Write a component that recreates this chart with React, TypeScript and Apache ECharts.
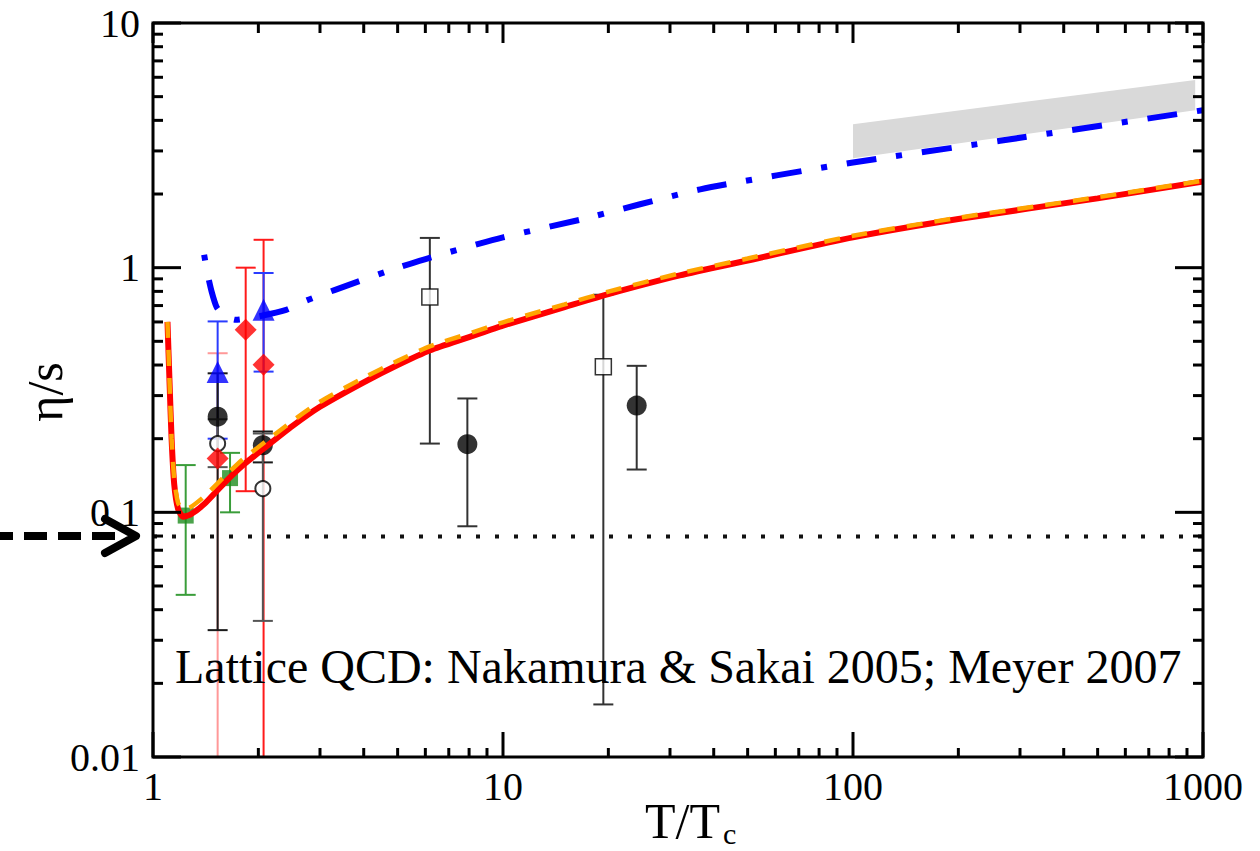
import React, { useEffect, useRef } from 'react';
import * as echarts from 'echarts';

const FONT = 'Liberation Serif';

// ---- axes ----
const xMajor = [1, 10, 100, 1000];
const yMajor = [0.01, 0.1, 1, 10];
const xTickLabels = ['1', '10', '100', '1000'];
const yTickLabels = ['0.01', '0.1', '1', '10'];
const minorSteps = [2, 3, 4, 5, 6, 7, 8, 9];

// ---- model curves (T/Tc, eta/s) ----
const redT = [1.1, 1.115, 1.13, 1.15, 1.18, 1.22, 1.28, 1.4, 1.6, 1.8, 2.1, 2.5, 3.0, 4.0, 5.0, 6.2, 8.0, 10, 15, 20, 32, 50, 100, 200, 500, 1000];
const redEta = [0.6, 0.34, 0.2, 0.13, 0.103, 0.096, 0.098, 0.108, 0.132, 0.155, 0.185, 0.225, 0.27, 0.34, 0.4, 0.46, 0.52, 0.58, 0.69, 0.78, 0.93, 1.07, 1.33, 1.58, 1.92, 2.25];

const orangeT = [1.1, 1.115, 1.13, 1.15, 1.18, 1.22, 1.28, 1.4, 1.6, 1.8, 2.1, 2.5, 3.0, 4.0, 5.0, 6.2, 8.0, 10, 15, 20, 32, 50, 100, 200, 500, 1000];
const orangeEta = [0.6, 0.34, 0.2, 0.136, 0.109, 0.103, 0.105, 0.116, 0.14, 0.164, 0.195, 0.236, 0.283, 0.355, 0.416, 0.478, 0.538, 0.598, 0.708, 0.798, 0.948, 1.09, 1.35, 1.6, 1.94, 2.27];

const blueT = [1.4, 1.43, 1.47, 1.52, 1.6, 1.72, 2.0, 2.4, 2.75, 3.3, 4.66, 6.2, 10, 16.6, 36.6, 100, 263, 1000];
const blueEta = [1.13, 0.95, 0.8, 0.69, 0.635, 0.612, 0.632, 0.672, 0.735, 0.81, 0.966, 1.1, 1.33, 1.57, 2.09, 2.69, 3.3, 4.4];

// high-temperature band
const bandT = [100, 950];
const bandLow = [2.8, 4.4];
const bandHigh = [3.86, 5.85];

// KSS bound 1/(4 pi)
const kssBound = 0.0796;

// ---- lattice points ----
const meyerT = [1.24, 1.66];
const meyerEta = [0.097, 0.138];
const meyerLo = [0.046, 0.1];
const meyerHi = [0.156, 0.175];

const nsFilledT = [1.53, 2.06];
const nsFilledEta = [0.246, 0.188];
const nsFilledLo = [0.033, 0.16];
const nsFilledHi = [0.37, 0.214];

const nsOpenT = [1.53, 2.06];
const nsOpenEta = [0.191, 0.125];
const nsOpenLo = [0.153, 0.036];
const nsOpenHi = [0.24, 0.21];

const nsDiamondT = [1.53, 1.84, 2.07];
const nsDiamondEta = [0.166, 0.557, 0.401];
const nsDiamondLo = [0.001, 0.122, 0.001];
const nsDiamondHi = [0.447, 1.0, 1.3];

const nsTriangleT = [1.53, 2.07];
const nsTriangleEta = [0.375, 0.673];
const nsTriangleLo = [0.2, 0.376];
const nsTriangleHi = [0.603, 0.951];

const squareT = [6.18, 19.35];
const squareEta = [0.758, 0.394];
const squareLo = [0.191, 0.0164];
const squareHi = [1.323, 0.775];

const circleT = [7.91, 24.1];
const circleEta = [0.19, 0.273];
const circleLo = [0.0877, 0.1496];
const circleHi = [0.292, 0.397];

const pairs = (xs: number[], ys: number[]) => xs.map((x, i) => [x, ys[i]]);

function errorBars(T: number[], lo: number[], hi: number[], color: string, width: number, opacity?: number[]) {
  return {
    type: 'custom',
    clip: true,
    silent: true,
    data: T.map((t, i) => [t, lo[i], hi[i]]),
    encode: { x: 0, y: [1, 2] },
    renderItem: (params: any, api: any) => {
      const x = api.value(0);
      const pLo = api.coord([x, api.value(1)]);
      const pHi = api.coord([x, api.value(2)]);
      const half = 10;
      const style = {
        stroke: color,
        lineWidth: width,
        opacity: opacity ? opacity[params.dataIndex] : 1,
      };
      return {
        type: 'group',
        children: [
          { type: 'line', shape: { x1: pLo[0], y1: pLo[1], x2: pHi[0], y2: pHi[1] }, style },
          { type: 'line', shape: { x1: pHi[0] - half, y1: pHi[1], x2: pHi[0] + half, y2: pHi[1] }, style },
          { type: 'line', shape: { x1: pLo[0] - half, y1: pLo[1], x2: pLo[0] + half, y2: pLo[1] }, style },
        ],
      };
    },
  };
}

// plot frame with mirrored major and minor ticks on all four sides
function frameSeries() {
  return {
    type: 'custom',
    silent: true,
    clip: false,
    z: 10,
    data: [[1, 1]],
    renderItem: (params: any, api: any) => {
      const cs = params.coordSys;
      const left = cs.x;
      const top = cs.y;
      const right = cs.x + cs.width;
      const bottom = cs.y + cs.height;
      const children: any[] = [];
      const seg = (x1: number, y1: number, x2: number, y2: number) =>
        children.push({ type: 'line', shape: { x1, y1, x2, y2 }, style: { stroke: '#000', lineWidth: 3 } });
      xMajor.forEach((v) => {
        const px = api.coord([v, 1])[0];
        seg(px, bottom, px, bottom - 25);
        seg(px, top, px, top + 20);
      });
      xMajor.slice(0, -1).forEach((d) =>
        minorSteps.forEach((m) => {
          const px = api.coord([d * m, 1])[0];
          seg(px, bottom, px, bottom - 9);
          seg(px, top, px, top + 10);
        })
      );
      yMajor.forEach((v) => {
        const py = api.coord([1, v])[1];
        seg(left, py, left + 28, py);
        seg(right, py, right - 28, py);
      });
      yMajor.slice(0, -1).forEach((d) =>
        minorSteps.forEach((m) => {
          const py = api.coord([1, d * m])[1];
          seg(left, py, left + 10, py);
          seg(right, py, right - 10, py);
        })
      );
      children.push({
        type: 'rect',
        shape: { x: left, y: top, width: right - left, height: bottom - top },
        style: { stroke: '#000', lineWidth: 3, fill: 'none' },
      });
      return { type: 'group', children };
    },
  };
}

function bandSeries() {
  return {
    type: 'custom',
    silent: true,
    clip: true,
    data: bandT.slice(0, -1).map((t, i) => [t, bandLow[i]]),
    renderItem: (params: any, api: any) => {
      const i = params.dataIndex;
      const pts = [
        api.coord([bandT[i], bandLow[i]]),
        api.coord([bandT[i + 1], bandLow[i + 1]]),
        api.coord([bandT[i + 1], bandHigh[i + 1]]),
        api.coord([bandT[i], bandHigh[i]]),
      ];
      return { type: 'polygon', shape: { points: pts }, style: { fill: '#d9d9d9' } };
    },
  };
}

const scatter = (data: number[][], symbol: string, size: number, color: string, border?: string, borderWidth = 0) => ({
  type: 'scatter',
  symbol,
  symbolSize: size,
  data,
  silent: true,
  itemStyle: { color, borderColor: border || color, borderWidth },
});

const option: any = {
  animation: false,
  backgroundColor: '#fff',
  grid: { left: 153, top: 23, width: 1050, height: 734 },
  xAxis: {
    type: 'log',
    logBase: 10,
    min: 1,
    max: 1000,
    axisLine: { show: false },
    axisTick: { show: false },
    splitLine: { show: false },
    axisLabel: {
      fontFamily: FONT,
      fontSize: 40,
      color: '#000',
      margin: 9,
      showMinLabel: true,
      showMaxLabel: true,
      hideOverlap: false,
      formatter: (v: number) => xTickLabels[Math.round(Math.log10(v))],
    },
  },
  yAxis: {
    type: 'log',
    logBase: 10,
    min: 0.01,
    max: 10,
    axisLine: { show: false },
    axisTick: { show: false },
    splitLine: { show: false },
    axisLabel: {
      fontFamily: FONT,
      fontSize: 40,
      color: '#000',
      margin: 13,
      showMinLabel: true,
      showMaxLabel: true,
      hideOverlap: false,
      formatter: (v: number) => yTickLabels[Math.round(Math.log10(v)) + 2],
    },
  },
  series: [
    bandSeries(),
    {
      type: 'line',
      silent: true,
      showSymbol: false,
      data: [[1, kssBound], [1000, kssBound]],
      lineStyle: { color: '#111', width: 4, type: [4, 15] },
    },
    errorBars(meyerT, meyerLo, meyerHi, '#3a9d3a', 2),
    errorBars(nsDiamondT, nsDiamondLo, nsDiamondHi, '#ff1a1a', 2, [0.45, 1, 1]),
    errorBars(nsTriangleT, nsTriangleLo, nsTriangleHi, '#2a3cff', 2),
    errorBars(nsFilledT, nsFilledLo, nsFilledHi, '#1a1a1a', 2),
    errorBars(nsOpenT, nsOpenLo, nsOpenHi, '#555', 2),
    errorBars(squareT, squareLo, squareHi, '#333', 2),
    errorBars(circleT, circleLo, circleHi, '#333', 2),
    scatter(pairs(meyerT, meyerEta), 'rect', 16, '#1e8c1e'),
    scatter(pairs(nsFilledT, nsFilledEta), 'circle', 20, '#000'),
    scatter(pairs(nsOpenT, nsOpenEta), 'circle', 15, '#fff', '#000', 2),
    scatter(pairs(nsDiamondT, nsDiamondEta), 'diamond', 22, '#ff0000'),
    scatter(pairs(nsTriangleT, nsTriangleEta), 'triangle', 22, '#0000ff'),
    scatter(pairs(squareT, squareEta), 'rect', 16, '#fff', '#000', 1.5),
    scatter(pairs(circleT, circleEta), 'circle', 20, '#000'),
    {
      type: 'line',
      silent: true,
      showSymbol: false,
      smooth: 0.2,
      data: pairs(blueT, blueEta),
      lineStyle: { color: '#0000ff', width: 6, type: [30, 20, 6, 20], dashOffset: 50 },
    },
    {
      type: 'line',
      silent: true,
      showSymbol: false,
      smooth: 0.2,
      data: pairs(redT, redEta),
      lineStyle: { color: '#ff0000', width: 6 },
    },
    {
      type: 'line',
      silent: true,
      showSymbol: false,
      smooth: 0.2,
      data: pairs(orangeT, orangeEta),
      lineStyle: { color: '#ffa500', width: 4.5, type: [16, 12] },
    },
    frameSeries(),
  ],
  graphic: [
    {
      type: 'text',
      x: 175,
      y: 690,
      z: 20,
      style: {
        text: 'Lattice QCD: Nakamura & Sakai 2005; Meyer 2007',
        fontFamily: FONT,
        fontSize: 48,
        fill: '#000',
        verticalAlign: 'bottom',
      },
    },
    {
      type: 'text',
      x: 45,
      y: 392,
      rotation: Math.PI / 2,
      style: {
        text: 'η/s',
        fontFamily: FONT,
        fontSize: 50,
        fill: '#000',
        align: 'center',
        verticalAlign: 'middle',
      },
    },
    {
      type: 'text',
      x: 645,
      y: 846,
      style: { text: 'T/T', fontFamily: FONT, fontSize: 50, fill: '#000', verticalAlign: 'bottom' },
    },
    {
      type: 'text',
      x: 723,
      y: 848,
      style: { text: 'c', fontFamily: FONT, fontSize: 30, fill: '#000', verticalAlign: 'bottom' },
    },
    {
      type: 'line',
      z: 30,
      shape: { x1: -10, y1: 536, x2: 126, y2: 536 },
      style: { stroke: '#000', lineWidth: 8, lineDash: [23, 11], lineDashOffset: 0 },
    },
    {
      type: 'polyline',
      z: 30,
      shape: { points: [[105, 519], [136, 536], [105, 553]] },
      style: { stroke: '#000', lineWidth: 8, lineCap: 'round', lineJoin: 'round', fill: 'none' },
    },
  ],
};

export default function App() {
  const ref = useRef<HTMLDivElement>(null);
  useEffect(() => {
    document.body.style.margin = '0';
    const chart = echarts.init(ref.current!, null, { renderer: 'svg' });
    chart.setOption(option);
    return () => chart.dispose();
  }, []);
  return <div ref={ref} style={{ width: 1260, height: 851 }} />;
}
